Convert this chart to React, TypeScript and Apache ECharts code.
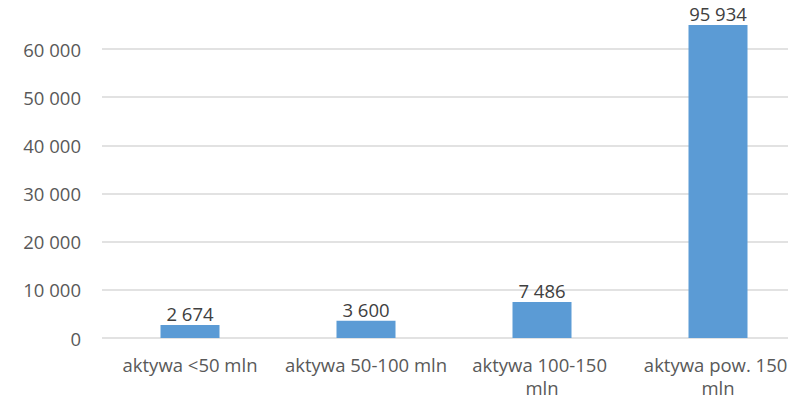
import React, { useEffect, useRef } from "react";
import * as echarts from "echarts";

const categories = [
  "aktywa <50 mln",
  "aktywa 50-100 mln",
  "aktywa 100-150 mln",
  "aktywa pow. 150 mln",
];
const values = [2674, 3600, 7486, 95934];
const yTicks = [0, 10000, 20000, 30000, 40000, 50000, 60000];

const fmt = (v: number) => String(v).replace(/\B(?=(\d{3})+(?!\d))/g, " ");

export default function App() {
  const ref = useRef<HTMLDivElement>(null);
  useEffect(() => {
    if (!ref.current) return;
    const chart = echarts.init(ref.current, undefined, { renderer: "svg" });
    const font = "'Open Sans', sans-serif";
    chart.setOption({
      animation: false,
      grid: { left: 102, width: 704, top: 25, bottom: 60.5, containLabel: false },
      xAxis: {
        type: "category",
        data: categories,
        axisLine: { show: false },
        axisTick: { show: false },
        axisLabel: {
          color: "#595959",
          fontFamily: font,
          fontSize: 18.5,
          lineHeight: 23,
          margin: 15,
          width: 166,
          overflow: "break",
          interval: 0,
        },
      },
      yAxis: {
        type: "value",
        min: 0,
        max: 65000,
        interval: 10000,
        axisLine: { show: false },
        axisTick: { show: false, customValues: yTicks },
        splitLine: { lineStyle: { color: "#D9D9D9", width: 1.5 } },
        axisLabel: {
          customValues: yTicks,
          color: "#595959",
          fontFamily: font,
          fontSize: 18.5,
          margin: 21,
          formatter: (v: number) => fmt(v),
        },
      },
      series: [
        {
          type: "bar",
          data: values,
          barWidth: 59,
          clip: true,
          itemStyle: { color: "#5B9BD5" },
          label: {
            show: true,
            position: "top",
            distance: 2,
            color: "#404040",
            fontFamily: font,
            fontSize: 18.5,
            formatter: (p: any) => fmt(p.value),
          },
        },
      ],
    });
    return () => chart.dispose();
  }, []);
  return (
    <div style={{ position: "absolute", left: 0, top: 0, width: 788, height: 399, overflow: "hidden", background: "#fff" }}>
      <div ref={ref} style={{ width: 806, height: 399 }} />
    </div>
  );
}
